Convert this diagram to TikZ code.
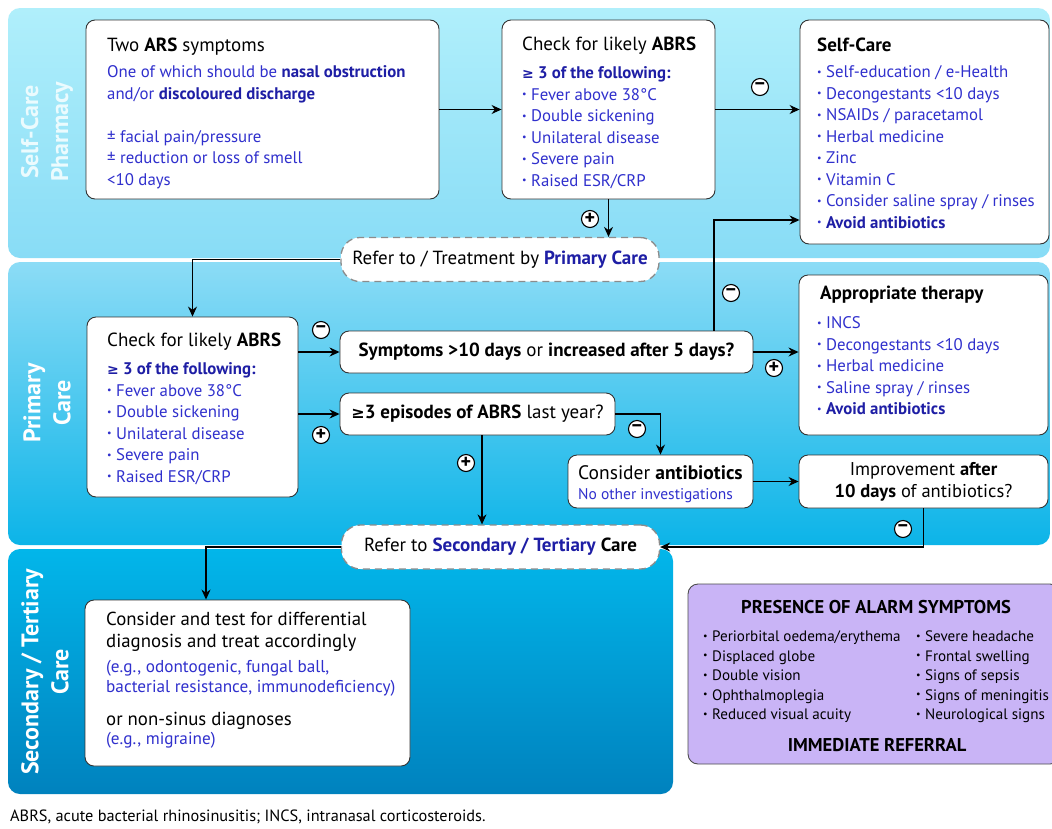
\documentclass[tikz,border=0pt]{standalone}
\usepackage{fontspec}
\setmainfont{PT Sans}
\newfontfamily\symfont{DejaVu Sans}
\usetikzlibrary{arrows.meta,calc}
\definecolor{tblue}{RGB}{48,48,205}
\definecolor{bblue}{RGB}{30,30,165}
\definecolor{scA}{RGB}{176,239,251}
\definecolor{scB}{RGB}{136,220,246}
\definecolor{pcA}{RGB}{140,220,246}
\definecolor{pcB}{RGB}{12,180,232}
\definecolor{stA}{RGB}{2,182,234}
\definecolor{stB}{RGB}{0,130,190}
\definecolor{alarm}{RGB}{201,180,246}
\newcommand{\bul}{\makebox[9pt][l]{\raisebox{2.5pt}{\fontsize{10}{10}\selectfont •}}}
\newcommand{\bb}[1]{\textbf{\color{bblue}#1}}
\newcommand{\hd}[1]{{\fontsize{19}{21.5}\selectfont\color{black}#1}}
\newcommand{\gqs}{{\symfont\fontsize{14}{14}\selectfont ≥}}
\begin{document}
\begin{tikzpicture}[x=1pt,y=-1pt,
  box/.style={draw=black!80, line width=0.9pt, fill=white, rounded corners=9pt, inner sep=0pt},
  refer/.style={draw=black!45, line width=1.3pt, dash pattern=on 7pt off 5pt, fill=white, rounded corners=19pt, inner sep=0pt, minimum width=318pt, minimum height=44pt, font=\fontsize{19}{21}\selectfont},
  txt/.style={anchor=north west, inner sep=0pt, align=left, font=\fontsize{16.8}{21.5}\selectfont},
  pm/.style={circle, draw=black, line width=1.1pt, fill=white, minimum size=17pt, inner sep=0pt, font=\fontsize{20}{20}\selectfont\bfseries},
  arr/.style={-{Stealth[length=10pt,width=9pt]}, line width=1.1pt},
  lane/.style={rotate=90, align=center, font=\fontsize{24}{30}\selectfont\bfseries, inner sep=0pt}
]
\useasboundingbox (0,0) rectangle (1052,828);
\fill[white] (0,0) rectangle (1052,828);
% bands
\shade[top color=scA, bottom color=scB, rounded corners=12pt] (8,8) rectangle (1050,258);
\shade[top color=pcA, bottom color=pcB, rounded corners=12pt] (8,262) rectangle (1050,545);
\shade[top color=stA, bottom color=stB, rounded corners=12pt] (8,549) rectangle (673,794);
\node[lane, text=white!75!scA] (l1) at (47,132) {Self-Care\\Pharmacy};
\node[lane, text=white] (l2) at (47,403) {Primary\\Care};
\node[lane, text=white] (l3) at (45,672) {Secondary / Tertiary\\Care};

% boxes
\node[box, minimum width=353pt, minimum height=179pt] (ars) at (262.5,109.5) {};
\node[box, minimum width=213pt, minimum height=179pt] (chk1) at (608.5,109.5) {};
\node[box, minimum width=249pt, minimum height=224pt] (sc) at (924.5,132) {};
\node[box, minimum width=211pt, minimum height=180pt] (pc) at (192.5,407) {};
\node[box, minimum width=413pt, minimum height=42pt] (sym) at (546.5,352) {};
\node[box, minimum width=275pt, minimum height=42pt] (epi) at (477.5,414) {};
\node[box, minimum width=249pt, minimum height=160pt] (ther) at (923.5,355) {};
\node[box, minimum width=185pt, minimum height=53pt] (ant) at (660.5,481.5) {};
\node[box, minimum width=249pt, minimum height=53pt] (imp) at (923.5,481.5) {};
\node[box, minimum width=325pt, minimum height=166pt] (sec) at (247.5,683) {};
\node[box, draw=black!70, fill=alarm, rounded corners=10pt, minimum width=372pt, minimum height=180pt] (alarm) at (874,674) {};

\node[refer] (refp) at (500,259.5) {Refer to / Treatment by \bb{Primary Care}};
\node[refer] (refs) at (500.5,547) {Refer to \bb{Secondary / Tertiary} \textbf{Care}};

% texts
\node[txt, text=tblue] (t1) at (107,38) {\hd{Two \textbf{ARS} symptoms}\\[4.5pt]
One of which should be \bb{nasal obstruction}\\
and/or \bb{discoloured discharge}\\[21.5pt]
± facial pain/pressure\\
± reduction or loss of smell\\
<10 days};
\node[txt, text=tblue] (t2) at (522,37) {\hd{Check for likely \textbf{ABRS}}\\[6.5pt]
\bb{\gqs\ 3 of the following:}\\
\bul Fever above 38°C\\
\bul Double sickening\\
\bul Unilateral disease\\
\bul Severe pain\\
\bul Raised ESR/CRP};
\node[txt, text=tblue] (t3) at (817,38) {\hd{\textbf{Self-Care}}\\[4.5pt]
\bul Self-education / e-Health\\
\bul Decongestants <10 days\\
\bul NSAIDs / paracetamol\\
\bul Herbal medicine\\
\bul Zinc\\
\bul Vitamin C\\
\bul Consider saline spray / rinses\\
\bul \bb{Avoid antibiotics}};
\node[txt, text=tblue] (t4) at (107,333) {\hd{Check for likely \textbf{ABRS}}\\[6.5pt]
\bb{\gqs\ 3 of the following:}\\
\bul Fever above 38°C\\
\bul Double sickening\\
\bul Unilateral disease\\
\bul Severe pain\\
\bul Raised ESR/CRP};
\node[txt, text=tblue] (t5) at (817,286) {\hspace*{3pt}\hd{\textbf{Appropriate therapy}}\\[7.5pt]
\bul INCS\\
\bul Decongestants <10 days\\
\bul Herbal medicine\\
\bul Saline spray / rinses\\
\bul \bb{Avoid antibiotics}};
\node[txt] (t6) at (578,465) {{\fontsize{19.5}{21.5}\selectfont Consider \textbf{antibiotics}}\\[-1.5pt]
{\fontsize{15.5}{16}\selectfont\color{tblue}No other investigations}};
\node[inner sep=0pt, align=center, font=\fontsize{18.5}{22}\selectfont] (t7) at (imp) {Improvement \textbf{after}\\\textbf{10 days} of antibiotics?};
\node[inner sep=0pt, font=\fontsize{19}{21}\selectfont] (t8) at (sym) {\textbf{Symptoms >10 days} or \textbf{increased after 5 days?}};
\node[inner sep=0pt, font=\fontsize{19}{21}\selectfont] (t9) at (epi) {\textbf{{\symfont\fontsize{16}{16}\selectfont ≥}3 episodes of ABRS} last year?};
\node[txt, font=\fontsize{18.8}{21.5}\selectfont] (t10) at (106,612) {Consider and test for differential\\
diagnosis and treat accordingly\\[3.5pt]
{\fontsize{17.2}{18}\selectfont\color{tblue}(e.g., odontogenic, fungal ball,}\\[-1.5pt]
{\fontsize{17.2}{18}\selectfont\color{tblue}bacterial resistance, immunodeficiency)}\\[11.5pt]
or non-sinus diagnoses\\[-2.5pt]
{\fontsize{17.2}{18}\selectfont\color{tblue}(e.g., migraine)}};

\node[inner sep=0pt, font=\fontsize{18.5}{20}\selectfont\bfseries] (a1) at (876,607) {PRESENCE OF ALARM SYMPTOMS};
\node[txt, font=\fontsize{15.1}{19.5}\selectfont] (a2) at (703,631) {\bul Periorbital oedema/erythema\\
\bul Displaced globe\\
\bul Double vision\\
\bul Ophthalmoplegia\\
\bul Reduced visual acuity};
\node[txt, font=\fontsize{15.1}{19.5}\selectfont] (a3) at (916,631) {\bul Severe headache\\
\bul Frontal swelling\\
\bul Signs of sepsis\\
\bul Signs of meningitis\\
\bul Neurological signs};
\node[inner sep=0pt, font=\fontsize{18.5}{20}\selectfont\bfseries] (a4) at (877,745) {IMMEDIATE REFERRAL};

\node[anchor=west, inner sep=0pt, font=\fontsize{16.3}{18}\selectfont] (foot) at (10,817) {ABRS, acute bacterial rhinosinusitis; INCS, intranasal corticosteroids.};

% connectors
\coordinate (k1) at (714,220);
\coordinate (k2) at (482,0);
\coordinate (k3) at (206,0);
\draw[arr] (ars.east) -- (chk1.west);
\draw[arr] (chk1.east) -- (chk1.east -| sc.west);
\draw[arr] (chk1.south) -- (chk1.south |- refp.north);
\draw[arr] (refp.west) -| (pc.north);
\draw[arr] (sym.west -| pc.east) -- (sym.west);
\draw[arr] (epi.west -| pc.east) -- (epi.west);
\draw[arr] (k1 |- sym.north) -- (k1) -- (k1 -| sc.west);
\draw[arr] (sym.east) -- (sym.east -| ther.west);
\draw[arr] (epi.east) -| (ant.north);
\draw[arr] (k2 |- epi.south) -- (k2 |- refs.north);
\draw[arr] (ant.east) -- (imp.west);
\draw[arr] (imp.south) |- (refs.east);
\draw[arr] (refs.west) -- (refs.west -| k3) -- (k3 |- sec.north);

% signs
\node[pm] (s1) at (760,87) {\raisebox{1.5pt}{−}};
\node[pm] (s2) at (590,219) {\raisebox{0.5pt}{+}};
\node[pm] (s3) at (321,330) {\raisebox{1.5pt}{−}};
\node[pm] (s4) at (321,435) {\raisebox{0.5pt}{+}};
\node[pm] (s5) at (731,293) {\raisebox{1.5pt}{−}};
\node[pm] (s6) at (774,368) {\raisebox{0.5pt}{+}};
\node[pm] (s7) at (637,429) {\raisebox{1.5pt}{−}};
\node[pm] (s8) at (466,463) {\raisebox{0.5pt}{+}};
\node[pm] (s9) at (903,529) {\raisebox{1.5pt}{−}};
\end{tikzpicture}
\end{document}
